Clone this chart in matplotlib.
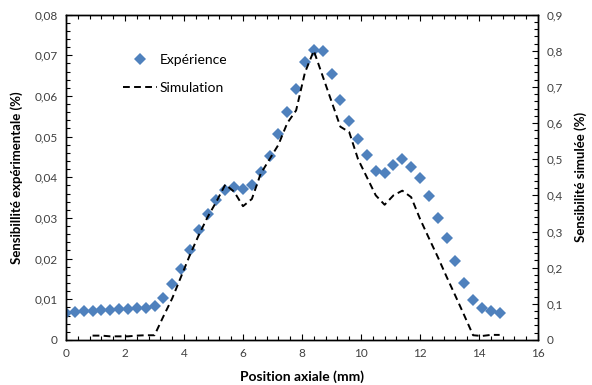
import numpy as np
import matplotlib
matplotlib.use("Agg")
import matplotlib.pyplot as plt
from matplotlib.ticker import MultipleLocator, FuncFormatter

plt.rcParams['font.family'] = ['Lato', 'DejaVu Sans']

# Experimental sensitivity (%) vs axial position (mm)
pos_exp = [0.0, 0.3, 0.6, 0.9, 1.2, 1.5, 1.8, 2.1, 2.4, 2.7, 3.0, 3.3, 3.6, 3.9,
           4.2, 4.5, 4.8, 5.1, 5.4, 5.7, 6.0, 6.3, 6.6, 6.9, 7.2, 7.5, 7.8, 8.1,
           8.4, 8.7, 9.0, 9.3, 9.6, 9.9, 10.2, 10.5, 10.8, 11.1, 11.4, 11.7, 12.0,
           12.3, 12.6, 12.9, 13.2, 13.5, 13.8, 14.1, 14.4, 14.7]
sens_exp = [0.0067, 0.0068, 0.0071, 0.0072, 0.0074, 0.0074, 0.0076, 0.0076,
            0.0078, 0.0078, 0.0084, 0.0104, 0.0137, 0.0175, 0.0220, 0.0270,
            0.0309, 0.0344, 0.0369, 0.0375, 0.0370, 0.0380, 0.0412, 0.0452,
            0.0506, 0.0560, 0.0616, 0.0684, 0.0713, 0.0711, 0.0654, 0.0589,
            0.0538, 0.0493, 0.0454, 0.0415, 0.0411, 0.0431, 0.0444, 0.0425,
            0.0399, 0.0355, 0.0301, 0.0251, 0.0195, 0.0141, 0.0099, 0.0079,
            0.0070, 0.0067]

# Simulated sensitivity (%) vs axial position (mm)
pos_sim = [0.9, 1.2, 1.5, 1.8, 2.1, 2.4, 2.7, 3.0, 3.3, 3.6, 3.9, 4.2, 4.5, 4.8,
           5.1, 5.4, 5.7, 6.0, 6.3, 6.6, 6.9, 7.2, 7.5, 7.8, 8.1, 8.4, 8.7, 9.0,
           9.3, 9.6, 9.9, 10.2, 10.5, 10.8, 11.1, 11.4, 11.7, 12.0, 12.3, 12.6,
           12.9, 13.2, 13.5, 13.8, 14.1, 14.4, 14.7]
sens_sim = [0.012, 0.012, 0.010, 0.010, 0.010, 0.012, 0.013, 0.013, 0.065,
            0.115, 0.175, 0.235, 0.290, 0.340, 0.383, 0.430, 0.410, 0.370,
            0.390, 0.460, 0.500, 0.540, 0.600, 0.635, 0.740, 0.800, 0.730,
            0.660, 0.590, 0.575, 0.500, 0.450, 0.400, 0.374, 0.400, 0.413,
            0.395, 0.335, 0.282, 0.230, 0.175, 0.122, 0.068, 0.013, 0.011,
            0.014, 0.014]

fig = plt.figure(figsize=(5.92, 3.85), dpi=100)
ax = fig.add_axes([0.1115, 0.117, 0.7973, 0.845])
ax2 = ax.twinx()

blue = '#4F81BD'
h1, = ax.plot(pos_exp, sens_exp, linestyle='none', marker='D', markersize=6,
              color=blue, markeredgewidth=0, label='Expérience')
h2, = ax2.plot(pos_sim, sens_sim, color='black', linewidth=1.4,
               dashes=(3.5, 2.2), label='Simulation')

ax.set_xlim(0, 16)
ax.set_ylim(0, 0.08)
ax2.set_ylim(0, 0.9)

comma = lambda fmt: FuncFormatter(lambda v, p: '0' if abs(v) < 1e-12 else (fmt % v).replace('.', ','))
ax.xaxis.set_major_locator(MultipleLocator(2))
ax.xaxis.set_minor_locator(MultipleLocator(0.4))
ax.yaxis.set_major_locator(MultipleLocator(0.01))
ax.yaxis.set_minor_locator(MultipleLocator(0.002))
ax.yaxis.set_major_formatter(comma('%.2f'))
ax2.yaxis.set_major_locator(MultipleLocator(0.1))
ax2.yaxis.set_minor_locator(MultipleLocator(0.02))
ax2.yaxis.set_major_formatter(comma('%.1f'))
ax.xaxis.set_major_formatter(FuncFormatter(lambda v, p: '%d' % v))

tick_color = '#404040'
ax.tick_params(axis='x', which='both', direction='in', top=True, labelsize=8.5,
               colors='black', labelcolor=tick_color, pad=6)
ax.tick_params(axis='y', which='both', direction='in', right=False, labelsize=8.5,
               colors='black', labelcolor=tick_color, pad=6)
ax2.tick_params(axis='y', which='both', direction='in', labelsize=8.5,
                colors='black', labelcolor=tick_color, pad=6)
for a in (ax, ax2):
    a.tick_params(which='major', length=4, width=0.8)
    a.tick_params(which='minor', length=3, width=0.8)
    for s in a.spines.values():
        s.set_linewidth(1.0)
        s.set_color('black')

ax.set_xlabel('Position axiale (mm)', fontsize=10, fontweight='bold', labelpad=8)
ax.set_ylabel('Sensibillité expérimentale (%)', fontsize=9.5, fontweight='bold', labelpad=8)
ax2.set_ylabel('Sensibilité simulée (%)', fontsize=9.5, fontweight='bold', labelpad=8)

ax.legend([h1, h2], ['Expérience', 'Simulation'], loc='upper left',
          bbox_to_anchor=(0.121, 0.878), frameon=False, fontsize=10,
          borderpad=0, borderaxespad=0,
          handlelength=2.45, handletextpad=0.2, labelspacing=1.1)

fig.savefig('out.png', dpi=100)
